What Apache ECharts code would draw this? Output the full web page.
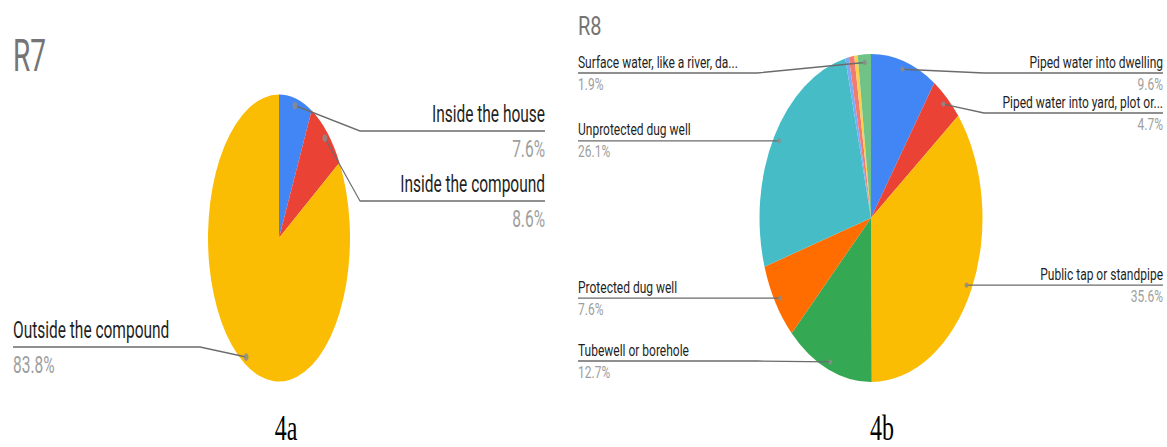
<!DOCTYPE html>
<html>
<head>
<meta charset="utf-8">
<script src="https://cdn.jsdelivr.net/npm/echarts@6/dist/echarts.min.js"></script>
<style>
html, body { margin: 0; padding: 0; background: #ffffff; width: 1167px; height: 447px; overflow: hidden; position: relative; }
.layer { position: absolute; top: 0; transform-origin: 0 0; }
</style>
</head>
<body>
<div id="r7pie" class="layer"></div>
<div id="r7lab" class="layer"></div>
<div id="r8pie" class="layer"></div>
<div id="r8lab" class="layer"></div>
<div id="cap" class="layer"></div>
<script>
// ---------------- data ----------------
const r7Title = 'R7';
const r7Categories = ['Inside the house', 'Inside the compound', 'Outside the compound'];
const r7Values = [7.6, 8.6, 83.8];

const r8Title = 'R8';
const r8Categories = [
  'Piped water into dwelling',
  'Piped water into yard, plot or...',
  'Public tap or standpipe',
  'Tubewell or borehole',
  'Protected dug well',
  'Unprotected dug well',
  'Other source A',
  'Other source B',
  'Other source C',
  'Surface water, like a river, da...'
];
const r8Values = [9.6, 4.7, 35.6, 12.7, 7.6, 26.1, 0.5, 0.8, 0.5, 1.9];

const figureLabels = ['4a', '4b'];
const palette = ['#4285F4', '#EA4335', '#FBBC04', '#34A853', '#FF6D01', '#46BDC6', '#7BAAF7', '#F07B72', '#FCD04F', '#71C287'];

// ---------------- drawing ----------------
const PAGE_H = 447;
const MIN_LABELLED = 1; // slices below this share get no label (as in the source)

// Google-style label placement: label line at the y of a point inside the slice,
// pushed apart per side so that labels do not collide.
function placeLabels(cfg) {
  const total = cfg.vals.reduce((a, b) => a + b, 0);
  let cum = 0;
  const items = {};
  const list = [];
  cfg.vals.forEach((v, i) => {
    const mid = (cum + v / 2) / total * 2 * Math.PI;
    cum += v;
    if (v < MIN_LABELLED) return;
    const s = Math.sin(mid), c = Math.cos(mid);
    const it = { i: i, side: s >= 0 ? 1 : -1, dotX: cfg.cx + 0.95 * cfg.rx * s, dotY: cfg.cy - 0.95 * cfg.ry * c };
    items[i] = it;
    list.push(it);
  });
  [1, -1].forEach(side => {
    const l = list.filter(it => it.side === side).sort((a, b) => a.dotY - b.dotY);
    l.forEach((it, k) => {
      it.y = Math.max(it.dotY, cfg.lineMin, k ? l[k - 1].y + cfg.lineGap : -Infinity);
    });
    for (let k = l.length - 1; k >= 0; k--) {
      const lim = k === l.length - 1 ? cfg.lineMax : l[k + 1].y - cfg.lineGap;
      l[k].y = Math.min(l[k].y, lim);
    }
  });
  return items;
}

function buildPanel(cfg) {
  // pie layer: circle stretched vertically into the ellipse of the source
  const syP = cfg.ry / cfg.rx;
  const pieDom = document.getElementById(cfg.pieId);
  pieDom.style.left = cfg.left + 'px';
  pieDom.style.width = cfg.width + 'px';
  pieDom.style.height = (PAGE_H / syP) + 'px';
  pieDom.style.transform = 'scale(1,' + syP + ')';
  const pieChart = echarts.init(pieDom, null, { renderer: 'svg' });
  pieChart.setOption({
    animation: false,
    series: [{
      type: 'pie',
      silent: true,
      startAngle: 90,
      clockwise: true,
      center: [cfg.cx - cfg.left, cfg.cy / syP],
      radius: [0, cfg.rx],
      label: { show: false },
      labelLine: { show: false },
      itemStyle: { borderWidth: 0 },
      data: cfg.cats.map((c, i) => ({ name: c, value: cfg.vals[i], itemStyle: { color: palette[i] } }))
    }]
  });

  // label layer: text stretched less than the pie
  const syT = cfg.labScale;
  const labDom = document.getElementById(cfg.labId);
  const hU = PAGE_H / syT;
  labDom.style.left = cfg.left + 'px';
  labDom.style.width = cfg.width + 'px';
  labDom.style.height = hU + 'px';
  labDom.style.transform = 'scale(1,' + syT + ')';
  const pos = placeLabels(cfg);
  const toX = x => x - cfg.left;
  const toY = y => y / syT;
  const labChart = echarts.init(labDom, null, { renderer: 'svg' });
  labChart.setOption({
    animation: false,
    title: {
      text: cfg.title,
      left: 4,
      top: cfg.titleTop / syT,
      padding: 0,
      textStyle: { fontFamily: 'Roboto', fontWeight: 'normal', fontSize: cfg.titleSize, color: '#757575' }
    },
    graphic: Object.keys(pos).map(k => ({
      type: 'circle',
      silent: true,
      z: 100,
      shape: { cx: toX(pos[k].dotX), cy: toY(pos[k].dotY), r: cfg.dotR },
      style: { fill: 'rgba(140,140,140,0.85)' }
    })),
    series: [{
      type: 'pie',
      silent: true,
      startAngle: 90,
      clockwise: true,
      avoidLabelOverlap: false,
      center: [toX(cfg.cx), toY(cfg.cy)],
      radius: [0, cfg.rx],
      percentPrecision: 1,
      itemStyle: { color: 'rgba(0,0,0,0)', borderWidth: 0 },
      label: {
        show: true,
        formatter: '{n|{b}}\n{p|{d}%}',
        rich: {
          n: { fontFamily: 'Roboto', fontSize: cfg.fontSize, color: '#1f1f1f', lineHeight: cfg.lineHeight },
          p: { fontFamily: 'Roboto', fontSize: cfg.fontSize, color: '#9e9e9e', lineHeight: cfg.lineHeight }
        }
      },
      labelLine: { show: true, length: 5, length2: 5, smooth: false, lineStyle: { color: '#6b6b6b', width: 1 } },
      labelLayout: function (p) {
        const it = pos[p.dataIndex];
        if (!it) return {};
        const right = it.side > 0;
        const edgeX = toX(right ? cfg.rightEdge : cfg.leftEdge);
        const colX = toX(right ? cfg.rightCol : cfg.leftCol);
        const ly = toY(it.y);
        return {
          x: edgeX,
          y: ly,
          align: right ? 'right' : 'left',
          verticalAlign: 'middle',
          labelLinePoints: [[toX(it.dotX), toY(it.dotY)], [colX, ly], [edgeX, ly]]
        };
      },
      data: cfg.cats.map((c, i) => {
        const shown = cfg.vals[i] >= MIN_LABELLED;
        return { name: c, value: cfg.vals[i], label: { show: shown }, labelLine: { show: shown } };
      })
    }]
  });
}

buildPanel({
  pieId: 'r7pie', labId: 'r7lab', title: r7Title, cats: r7Categories, vals: r7Values,
  left: 9, width: 540, cx: 279, cy: 238, rx: 71, ry: 143.5,
  labScale: 1.6, fontSize: 15.5, lineHeight: 22, titleSize: 28, titleTop: 33,
  leftEdge: 13, rightEdge: 545, leftCol: 200, rightCol: 360,
  lineMin: 131, lineMax: 347, lineGap: 70, dotR: 2.4
});

buildPanel({
  pieId: 'r8pie', labId: 'r8lab', title: r8Title, cats: r8Categories, vals: r8Values,
  left: 574, width: 593, cx: 871, cy: 218, rx: 111.5, ry: 164,
  labScale: 1.3, fontSize: 12, lineHeight: 17, titleSize: 20, titleTop: 13,
  leftEdge: 578, rightEdge: 1163, leftCol: 757, rightCol: 984,
  lineMin: 73, lineMax: 361, lineGap: 40, dotR: 2
});

// figure captions
(function () {
  const sy = 1.45;
  const dom = document.getElementById('cap');
  dom.style.left = '0px';
  dom.style.width = '1167px';
  dom.style.height = (PAGE_H / sy + 60) + 'px';
  dom.style.transform = 'scale(1,' + sy + ')';
  const ch = echarts.init(dom, null, { renderer: 'svg' });
  const xs = [286, 882];
  ch.setOption({
    animation: false,
    graphic: figureLabels.map((t, i) => ({
      type: 'text',
      silent: true,
      style: {
        x: xs[i], y: 428 / sy, text: t,
        textAlign: 'center', textVerticalAlign: 'middle',
        fontFamily: 'Liberation Serif', fontSize: 24, fill: '#000000'
      }
    }))
  });
})();
</script>
</body>
</html>
